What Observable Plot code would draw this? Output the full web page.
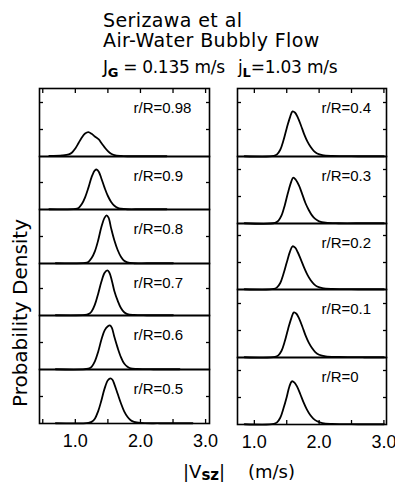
<!DOCTYPE html>
<html><head><meta charset="utf-8">
<script src="https://cdn.jsdelivr.net/npm/d3@7"></script>
<script src="https://cdn.jsdelivr.net/npm/@observablehq/plot@0.6"></script>
<style>
body{margin:0;background:#fff;}
#chart{position:relative;width:395px;height:486px;color:#000;overflow:hidden;background:#fff}
.abs{position:absolute;white-space:nowrap;line-height:1;font-family:"DejaVu Sans",sans-serif;color:#000}
</style></head><body><div id="chart"></div>
<script>
// ---- data ----
const titleLines = ["Serizawa et al", "Air-Water Bubbly Flow"];
const yLabel = "Probability Density";
const leftLabels = ["r/R=0.98", "r/R=0.9", "r/R=0.8", "r/R=0.7", "r/R=0.6", "r/R=0.5"];
const rightLabels = ["r/R=0.4", "r/R=0.3", "r/R=0.2", "r/R=0.1", "r/R=0"];
const leftMinorTicks = [0.5, 1.0, 1.5, 2.0, 2.5, 3.0];
const rightMinorTicks = [1.0, 1.5, 2.0, 2.5, 3.0];
const majorTicks = [1.0, 2.0, 3.0];
const densityTicks = [1, 2];

const leftX = [
  [0.6, 0.8, 0.9, 0.95, 1.0, 1.05, 1.1, 1.15, 1.2, 1.25, 1.3, 1.36, 1.4, 1.45, 1.5, 1.55, 1.6, 1.7, 1.8, 2.0, 2.4],
  [0.6, 1.0, 1.05, 1.1, 1.15, 1.2, 1.25, 1.3, 1.33, 1.36, 1.4, 1.45, 1.5, 1.55, 1.6, 1.65, 1.7, 1.8, 2.0, 2.4],
  [0.7, 1.15, 1.2, 1.25, 1.3, 1.35, 1.4, 1.45, 1.48, 1.51, 1.55, 1.6, 1.65, 1.7, 1.75, 1.8, 1.9, 2.1, 2.5],
  [0.7, 1.15, 1.2, 1.25, 1.3, 1.35, 1.4, 1.45, 1.49, 1.52, 1.56, 1.6, 1.65, 1.7, 1.75, 1.8, 1.9, 2.1, 2.5],
  [0.7, 1.2, 1.25, 1.3, 1.35, 1.4, 1.45, 1.5, 1.53, 1.56, 1.6, 1.65, 1.7, 1.75, 1.8, 1.85, 1.95, 2.2, 2.6],
  [0.7, 1.2, 1.25, 1.3, 1.35, 1.4, 1.45, 1.5, 1.54, 1.57, 1.6, 1.65, 1.7, 1.75, 1.8, 1.85, 1.9, 2.0, 2.3, 2.8]
];
const leftY = [
  [0.02, 0.04, 0.08, 0.15, 0.3, 0.5, 0.7, 0.85, 0.9, 0.84, 0.74, 0.63, 0.5, 0.34, 0.2, 0.1, 0.05, 0.02, 0.01, 0.01, 0.01],
  [0.01, 0.02, 0.06, 0.2, 0.45, 0.8, 1.2, 1.45, 1.48, 1.4, 1.15, 0.8, 0.5, 0.28, 0.14, 0.06, 0.03, 0.01, 0.01, 0.01],
  [0.01, 0.02, 0.06, 0.2, 0.45, 0.85, 1.35, 1.7, 1.78, 1.7, 1.3, 0.85, 0.5, 0.25, 0.1, 0.04, 0.01, 0.01, 0.01],
  [0.01, 0.02, 0.05, 0.15, 0.4, 0.8, 1.25, 1.58, 1.67, 1.6, 1.3, 0.9, 0.55, 0.28, 0.12, 0.05, 0.02, 0.01, 0.01],
  [0.01, 0.03, 0.1, 0.3, 0.65, 1.1, 1.45, 1.6, 1.63, 1.55, 1.2, 0.8, 0.46, 0.22, 0.1, 0.04, 0.02, 0.01, 0.01],
  [0.01, 0.02, 0.06, 0.18, 0.45, 0.85, 1.3, 1.6, 1.67, 1.62, 1.45, 1.1, 0.75, 0.45, 0.25, 0.12, 0.06, 0.02, 0.01, 0.01]
];
const rightX = [
  [0.85, 1.3, 1.35, 1.4, 1.45, 1.5, 1.55, 1.59, 1.63, 1.67, 1.72, 1.77, 1.82, 1.87, 1.92, 1.97, 2.05, 2.2, 2.6, 3.0],
  [0.85, 1.32, 1.37, 1.42, 1.47, 1.52, 1.57, 1.6, 1.64, 1.69, 1.74, 1.79, 1.84, 1.89, 1.94, 2.0, 2.1, 2.3, 2.7, 3.0],
  [0.85, 1.3, 1.35, 1.4, 1.45, 1.5, 1.55, 1.59, 1.63, 1.67, 1.72, 1.77, 1.82, 1.87, 1.92, 1.97, 2.05, 2.2, 2.6, 3.0],
  [0.85, 1.32, 1.37, 1.42, 1.47, 1.52, 1.57, 1.61, 1.65, 1.69, 1.74, 1.79, 1.84, 1.89, 1.94, 2.0, 2.1, 2.3, 2.7, 3.0],
  [0.85, 1.3, 1.35, 1.4, 1.45, 1.5, 1.54, 1.58, 1.62, 1.66, 1.71, 1.76, 1.81, 1.86, 1.91, 1.97, 2.05, 2.2, 2.6, 3.0]
];
const rightY = [
  [0.01, 0.02, 0.08, 0.25, 0.6, 1.05, 1.45, 1.67, 1.62, 1.45, 1.15, 0.82, 0.55, 0.35, 0.2, 0.11, 0.05, 0.02, 0.01, 0.01],
  [0.01, 0.02, 0.1, 0.3, 0.68, 1.15, 1.55, 1.7, 1.62, 1.4, 1.08, 0.75, 0.5, 0.3, 0.17, 0.08, 0.03, 0.01, 0.01, 0.01],
  [0.01, 0.02, 0.08, 0.24, 0.58, 1.0, 1.4, 1.6, 1.55, 1.38, 1.1, 0.8, 0.54, 0.34, 0.2, 0.11, 0.05, 0.02, 0.01, 0.01],
  [0.01, 0.02, 0.08, 0.25, 0.6, 1.05, 1.45, 1.67, 1.62, 1.45, 1.15, 0.82, 0.55, 0.35, 0.2, 0.1, 0.04, 0.02, 0.01, 0.01],
  [0.01, 0.02, 0.08, 0.25, 0.6, 1.02, 1.4, 1.6, 1.55, 1.4, 1.12, 0.82, 0.56, 0.36, 0.22, 0.12, 0.05, 0.02, 0.01, 0.01]
];

// ---- layout ----
const chart = document.getElementById("chart");
function addText(html, left, top, size, extra = "") {
  const d = document.createElement("div");
  d.className = "abs";
  d.style.left = left + "px"; d.style.top = top + "px"; d.style.fontSize = size + "px";
  d.style.cssText += extra;
  d.innerHTML = html;
  chart.appendChild(d);
  return d;
}
addText(titleLines[0], 103, 11, 19, "letter-spacing:0.4px;");
addText(titleLines[1], 103, 31, 19, "letter-spacing:0.4px;");
addText('J<span style="font-size:13px;font-weight:bold;position:relative;top:4px">G</span> = 0.135 m/s', 103, 59, 17, "letter-spacing:-0.3px;");
addText('j<span style="font-size:13px;font-weight:bold;position:relative;top:4px">L</span>=1.03 m/s', 238, 59, 17, "letter-spacing:-0.2px;");
addText(yLabel, 20, 313, 20, "transform:translate(-50%,-50%) rotate(-90deg);");
addText('|V<span style="font-size:15px;font-weight:bold;position:relative;top:2px">sz</span>|', 183, 463, 18);
addText('(m/s)', 248, 463, 18);

const leftCol = {x0: 39, x1: 209, domain: [0.45, 3.06], tops: [88, 156, 209, 263, 315, 369, 423], labelDx: 94, minor: leftMinorTicks};
const rightCol = {x0: 237, x1: 386, domain: [0.74, 3.04], tops: [88, 156, 223, 289, 357, 424], labelDx: 84, minor: rightMinorTicks};

function panel(col, i, xs, ys, label) {
  const n = col.tops.length - 1;
  const isTop = i === 0, isBottom = i === n - 1;
  const yTop = col.tops[i], yBot = col.tops[i + 1];
  const w = col.x1 - col.x0, h = yBot - yTop;
  const pad = 3, mt = 3, mb = isBottom ? 34 : 3;
  const yMax = h / 27;
  const yt = densityTicks.filter(t => t < yMax - 0.05);
  const data = xs.map((x, k) => ({x, y: ys[k]}));
  const marks = [
    Plot.line(data, {x: "x", y: "y", stroke: "#000", strokeWidth: 1.8, curve: "catmull-rom"}),
    Plot.axisY(yt, {anchor: "left", tickSize: -4, tickFormat: () => "", label: null, strokeWidth: 1.3}),
    Plot.axisY(yt, {anchor: "right", tickSize: -4, tickFormat: () => "", label: null, strokeWidth: 1.3}),
    Plot.frame({stroke: "#000", strokeWidth: 1.6}),
    Plot.text([label], {frameAnchor: "top-left", dx: col.labelDx, dy: 24, lineAnchor: "bottom", textAnchor: "start", fontSize: 15, fill: "#000"})
  ];
  if (isTop) marks.push(Plot.axisX(col.minor, {anchor: "top", tickSize: -4, tickFormat: () => "", label: null, strokeWidth: 1.3}));
  if (isBottom) {
    marks.push(Plot.axisX(col.minor, {anchor: "bottom", tickSize: -4, tickFormat: () => "", label: null, strokeWidth: 1.3}));
    marks.push(Plot.axisX(majorTicks, {anchor: "bottom", tickSize: 0, tickPadding: 11, tickFormat: d => d.toFixed(1), label: null, fontSize: 18, fill: "#000"}));
  }
  const svg = Plot.plot({
    width: w + 2 * pad, height: h + mt + mb,
    marginLeft: pad, marginRight: pad, marginTop: mt, marginBottom: mb,
    x: {domain: col.domain, axis: null}, y: {domain: [0, yMax], axis: null},
    style: {fontFamily: '"Liberation Sans",sans-serif', background: "transparent", overflow: "visible", color: "#000"},
    marks
  });
  svg.style.position = "absolute";
  svg.style.left = (col.x0 - pad) + "px";
  svg.style.top = (yTop - mt) + "px";
  svg.style.maxWidth = "none";
  chart.appendChild(svg);
}
leftLabels.forEach((lab, i) => panel(leftCol, i, leftX[i], leftY[i], lab));
rightLabels.forEach((lab, i) => panel(rightCol, i, rightX[i], rightY[i], lab));
</script></body></html>
